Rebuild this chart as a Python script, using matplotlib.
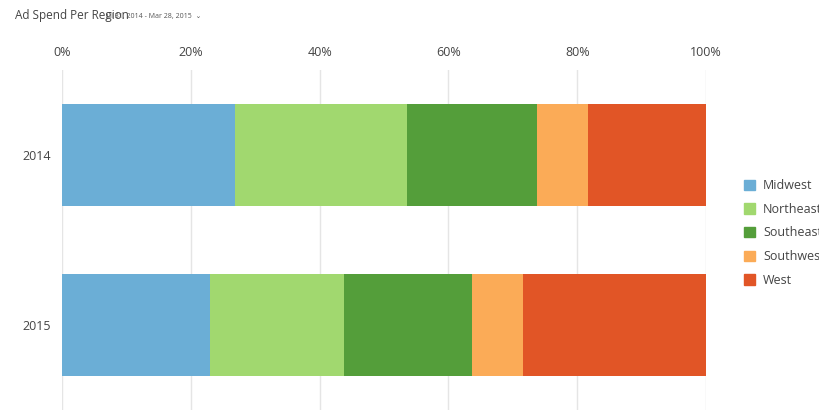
import matplotlib
matplotlib.use("Agg")
import matplotlib.pyplot as plt
from matplotlib.patches import Patch

years = ["2014", "2015"]
regions = ["Midwest", "Northeast", "Southeast", "Southwest", "West"]
colors = ["#6baed6", "#a1d86f", "#549e3a", "#fbab57", "#e15526"]
values = {
    "Midwest":   [26.9, 23.0],
    "Northeast": [26.6, 20.8],
    "Southeast": [20.2, 19.9],
    "Southwest": [7.9, 7.9],
    "West":      [18.4, 28.4],
}

plt.rcParams['font.family'] = ['Open Sans', 'DejaVu Sans']
fig = plt.figure(figsize=(8.2, 4.2), dpi=100)
ax = fig.add_axes([62/820, 10/420, 644/820, 340/420])
ypos = [0, 1]
left = [0, 0]
for r, c in zip(regions, colors):
    ax.barh(ypos, values[r], left=left, height=0.6, color=c, zorder=2)
    left = [a + b for a, b in zip(left, values[r])]
ax.set_xlim(0, 100)
ax.set_ylim(1.5, -0.5)
ax.set_yticks(ypos)
ax.set_yticklabels(years, fontsize=9, color="#444444")
ax.set_xticks([0, 20, 40, 60, 80, 100])
ax.set_xticklabels(["0%", "20%", "40%", "60%", "80%", "100%"], fontsize=9, color="#444444")
ax.xaxis.tick_top()
ax.tick_params(length=0, pad=8)
ax.grid(axis="x", color="#e5e5e5", linewidth=1, zorder=0)
for s in ax.spines.values():
    s.set_visible(False)

handles = [Patch(color=c) for c in colors]
fig.legend(handles, regions, loc="upper left", bbox_to_anchor=(733/820, 1 - 168/420),
           frameon=False, fontsize=9, handlelength=0.9, handleheight=0.9,
           handletextpad=0.6, labelspacing=0.85, labelcolor="#444444")
fig.text(15/820, 1 - 15/420, "Ad Spend Per Region", fontsize=8.5, color="#444444", va="center")
fig.text(106/820, 1 - 16/420, "Jul 31, 2014 - Mar 28, 2015  \u2304", fontsize=5, color="#555555", va="center")
fig.savefig("out.png", dpi=100)
